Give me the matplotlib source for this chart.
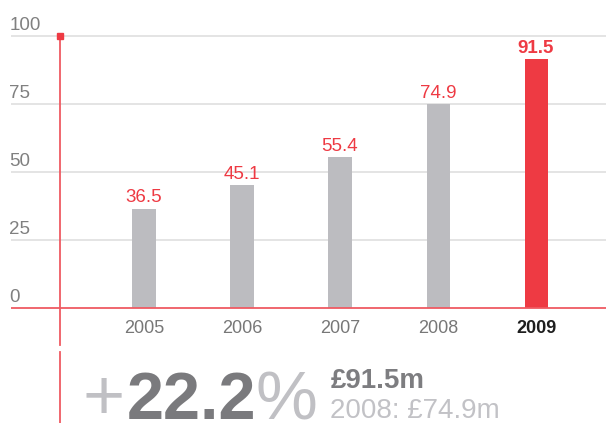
import matplotlib.pyplot as plt
from matplotlib.lines import Line2D

years = ['2005', '2006', '2007', '2008', '2009']
values = [36.5, 45.1, 55.4, 74.9, 91.5]
grid_ticks = [0, 25, 50, 75, 100]

RED = '#ee3a43'
GREY_BAR = '#bcbcc0'
W, H = 606, 423

plt.rcParams['font.family'] = ['Liberation Sans', 'DejaVu Sans']

fig = plt.figure(figsize=(W / 100, H / 100), dpi=100)
# axes from x=11px to right edge, y=20px to 345px
ax = fig.add_axes([11 / W, (H - 345) / H, 595 / W, 325 / H])
ax.set_xlim(-1.357, 4.714)
ax.set_ylim(-13.6, 105.9)
ax.axis('off')

x = list(range(len(years)))
colors = [GREY_BAR] * (len(years) - 1) + [RED]
ax.bar(x, values, width=0.235, color=colors, zorder=2)

# gridlines + y labels
for t in grid_ticks:
    if t == 0:
        ax.axhline(t, color='#ef5a62', lw=1.3, zorder=3)
    else:
        ax.axhline(t, color='#e2e2e2', lw=1.3, zorder=1)
    ax.text(-0.003, t + 2.2, str(t), transform=ax.get_yaxis_transform(),
            ha='left', va='baseline', fontsize=13.5, color='#808080')

# red vertical axis line with square cap
xr = -0.857
ax.plot([xr, xr], [100, -13.6], color='#ef5a62', lw=1.3, zorder=3, clip_on=False)
ax.plot(xr, 100, marker='s', ms=4.5, color=RED, zorder=4, clip_on=False)
fig.add_artist(Line2D([60 / W, 60 / W], [(H - 352) / H, 0], color='#ef5a62', lw=1.3))

# value labels and year labels
for i, (yr, v) in enumerate(zip(years, values)):
    last = i == len(years) - 1
    ax.text(i, v + 2.4, f'{v:.1f}', ha='center', va='baseline', fontsize=13.5,
            color=RED, fontweight='bold' if last else 'normal')
    ax.text(i, -9.2, yr, ha='center', va='baseline', fontsize=13,
            color='#1e1e1e' if last else '#777777',
            fontweight='bold' if last else 'normal')

# summary text
def fx(px):
    return px / W

def fy(py):
    return (H - py) / H

fig.text(fx(82), fy(419), '+', fontsize=52, color='#c0c0c4', ha='left', va='baseline')
fig.text(fx(127), fy(419), '22.2', fontsize=48, fontweight='bold', color='#7a7a7d',
         ha='left', va='baseline')
fig.text(fx(256), fy(419), '%', fontsize=50, color='#c0c0c4', ha='left', va='baseline')
fig.text(fx(331), fy(388), '£91.5m', fontsize=20, fontweight='bold', color='#7d7d80',
         ha='left', va='baseline')
fig.text(fx(330), fy(418), '2008: £74.9m', fontsize=20, color='#c2c2c6',
         ha='left', va='baseline')

fig.savefig('out.png', dpi=100)
